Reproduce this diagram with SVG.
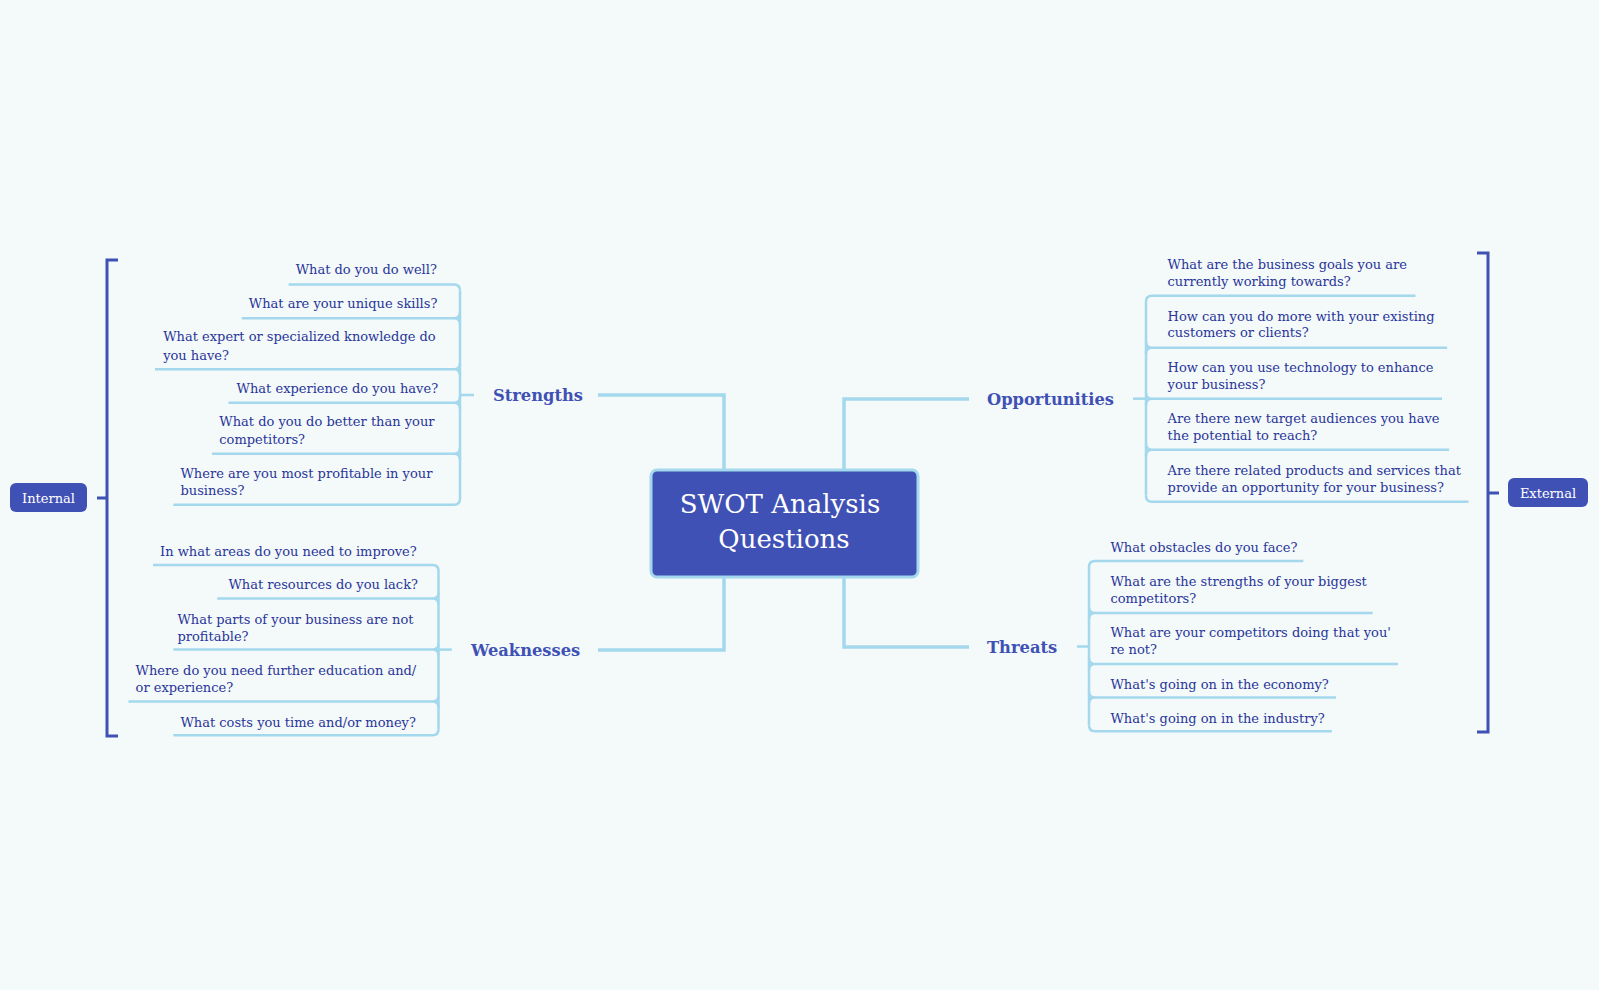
<svg xmlns="http://www.w3.org/2000/svg" width="1599" height="990" viewBox="0 0 1599 990">
<style>
.bg{fill:#f4f9f9}
.main{fill:none;stroke:#a3d8ed;stroke-width:3.5}
.ul{fill:none;stroke:#a3d8ed;stroke-width:2.5}
.br{fill:none;stroke:#3f51b5;stroke-width:3}
.q{font-family:"DejaVu Serif","Liberation Serif",serif;font-size:13px;fill:#28359a}
.lbl{font-family:"DejaVu Serif","Liberation Serif",serif;font-size:16.3px;font-weight:bold;fill:#3f51b5}
.title{font-family:"DejaVu Serif","Liberation Serif",serif;font-size:26px;fill:#ffffff;text-anchor:middle}
.tag{font-family:"DejaVu Serif","Liberation Serif",serif;font-size:13px;fill:#ffffff;text-anchor:middle}
.box{fill:#3f51b5}
</style>
<rect class="bg" x="0" y="0" width="1599" height="990"/>

<g id="connectors">
<path class="main" d="M724,470 V395 H598"/>
<path class="main" d="M724,577 V650 H598"/>
<path class="main" d="M844,470 V399 H969"/>
<path class="main" d="M844,577 V647 H969"/>
<!-- strengths -->
<path class="ul" d="M474,395 H460"/>
<path class="ul" d="M460,290.5 V498.8"/>
<path class="ul" d="M288.6,284.5 H454 Q460,284.5 460,290.5"/>
<path class="ul" d="M241.7,318.2 H454 Q460,318.2 460,312.2 M454,318.2 Q460,318.2 460,324.2"/>
<path class="ul" d="M155,369.2 H454 Q460,369.2 460,363.2 M454,369.2 Q460,369.2 460,375.2"/>
<path class="ul" d="M228.4,402.8 H454 Q460,402.8 460,396.8 M454,402.8 Q460,402.8 460,408.8"/>
<path class="ul" d="M212,453.8 H454 Q460,453.8 460,447.8 M454,453.8 Q460,453.8 460,459.8"/>
<path class="ul" d="M173.4,504.8 H454 Q460,504.8 460,498.8"/>
<!-- weaknesses -->
<path class="ul" d="M451.8,649.6 H438.5"/>
<path class="ul" d="M438.5,571 V729.3"/>
<path class="ul" d="M153,565 H432.5 Q438.5,565 438.5,571"/>
<path class="ul" d="M217.2,598.6 H432.5 Q438.5,598.6 438.5,592.6 M432.5,598.6 Q438.5,598.6 438.5,604.6"/>
<path class="ul" d="M173.4,649.6 H432.5 Q438.5,649.6 438.5,643.6 M432.5,649.6 Q438.5,649.6 438.5,655.6"/>
<path class="ul" d="M128.5,701.6 H432.5 Q438.5,701.6 438.5,695.6 M432.5,701.6 Q438.5,701.6 438.5,707.6"/>
<path class="ul" d="M173.4,735.3 H432.5 Q438.5,735.3 438.5,729.3"/>
<!-- opportunities -->
<path class="ul" d="M1133,398.7 H1146"/>
<path class="ul" d="M1146,301.7 V495.7"/>
<path class="ul" d="M1415.5,295.7 H1152 Q1146,295.7 1146,301.7"/>
<path class="ul" d="M1447.1,347.8 H1152 Q1146,347.8 1146,341.8 M1152,347.8 Q1146,347.8 1146,353.8"/>
<path class="ul" d="M1442,398.7 H1152 Q1146,398.7 1146,392.7 M1152,398.7 Q1146,398.7 1146,404.7"/>
<path class="ul" d="M1449.1,449.7 H1152 Q1146,449.7 1146,443.7 M1152,449.7 Q1146,449.7 1146,455.7"/>
<path class="ul" d="M1468.5,501.7 H1152 Q1146,501.7 1146,495.7"/>
<!-- threats -->
<path class="ul" d="M1077,646.5 H1089"/>
<path class="ul" d="M1089,566.9 V725.2"/>
<path class="ul" d="M1303.3,560.9 H1095 Q1089,560.9 1089,566.9"/>
<path class="ul" d="M1372.7,612.9 H1095 Q1089,612.9 1089,606.9 M1095,612.9 Q1089,612.9 1089,618.9"/>
<path class="ul" d="M1398,663.9 H1095 Q1089,663.9 1089,657.9 M1095,663.9 Q1089,663.9 1089,669.9"/>
<path class="ul" d="M1336,697.5 H1095 Q1089,697.5 1089,691.5 M1095,697.5 Q1089,697.5 1089,703.5"/>
<path class="ul" d="M1331.8,731.2 H1095 Q1089,731.2 1089,725.2"/>
<!-- brackets -->
<path class="br" d="M118,260 H107 V736 H118 M97,498 H107"/>
<path class="br" d="M1477,253 H1488 V732 H1477 M1488,493 H1499"/>
</g>

<g id="central">
<rect x="651" y="470" width="267" height="107" rx="6" fill="#3f51b5" stroke="#a3d8ed" stroke-width="3"/>
<text class="title" x="780" y="513">SWOT Analysis</text>
<text class="title" x="784" y="548">Questions</text>
</g>

<g id="strengths"><text class="lbl" x="493" y="401">Strengths</text></g>
<g id="weaknesses"><text class="lbl" x="471" y="656">Weaknesses</text></g>
<g id="opportunities"><text class="lbl" x="987" y="405">Opportunities</text></g>
<g id="threats"><text class="lbl" x="987" y="653">Threats</text></g>

<g id="internal"><rect class="box" x="10" y="483" width="77" height="29" rx="6"/><text class="tag" x="48.5" y="502.5">Internal</text></g>
<g id="external"><rect class="box" x="1508" y="478" width="80" height="29" rx="6"/><text class="tag" x="1548" y="497.5">External</text></g>

<g id="s1"><text class="q" x="295.7" y="273.8">What do you do well?</text></g>
<g id="s2"><text class="q" x="248.8" y="307.5">What are your unique skills?</text></g>
<g id="s3"><text class="q" x="163.2" y="341.1">What expert or specialized knowledge do</text><text class="q" x="163.2" y="359.5">you have?</text></g>
<g id="s4"><text class="q" x="236.6" y="393.1">What experience do you have?</text></g>
<g id="s5"><text class="q" x="219.3" y="425.8">What do you do better than your</text><text class="q" x="219.3" y="444.1">competitors?</text></g>
<g id="s6"><text class="q" x="180.5" y="477.8">Where are you most profitable in your</text><text class="q" x="180.5" y="495.1">business?</text></g>

<g id="w1"><text class="q" x="160.1" y="556.3">In what areas do you need to improve?</text></g>
<g id="w2"><text class="q" x="228.4" y="588.9">What resources do you lack?</text></g>
<g id="w3"><text class="q" x="177.4" y="623.6">What parts of your business are not</text><text class="q" x="177.4" y="640.9">profitable?</text></g>
<g id="w4"><text class="q" x="135.6" y="674.6">Where do you need further education and/</text><text class="q" x="135.6" y="691.9">or experience?</text></g>
<g id="w5"><text class="q" x="180.5" y="726.6">What costs you time and/or money?</text></g>

<g id="o1"><text class="q" x="1167.6" y="268.7">What are the business goals you are</text><text class="q" x="1167.6" y="286.1">currently working towards?</text></g>
<g id="o2"><text class="q" x="1167.6" y="320.7">How can you do more with your existing</text><text class="q" x="1167.6" y="337.1">customers or clients?</text></g>
<g id="o3"><text class="q" x="1167.6" y="371.7">How can you use technology to enhance</text><text class="q" x="1167.6" y="389.1">your business?</text></g>
<g id="o4"><text class="q" x="1167.6" y="422.7">Are there new target audiences you have</text><text class="q" x="1167.6" y="440.1">the potential to reach?</text></g>
<g id="o5"><text class="q" x="1167.6" y="474.7">Are there related products and services that</text><text class="q" x="1167.6" y="492.1">provide an opportunity for your business?</text></g>

<g id="t1"><text class="q" x="1110.5" y="552.2">What obstacles do you face?</text></g>
<g id="t2"><text class="q" x="1110.5" y="585.9">What are the strengths of your biggest</text><text class="q" x="1110.5" y="603.2">competitors?</text></g>
<g id="t3"><text class="q" x="1110.5" y="636.9">What are your competitors doing that you'</text><text class="q" x="1110.5" y="654.2">re not?</text></g>
<g id="t4"><text class="q" x="1110.5" y="688.9">What's going on in the economy?</text></g>
<g id="t5"><text class="q" x="1110.5" y="722.5">What's going on in the industry?</text></g>
</svg>
